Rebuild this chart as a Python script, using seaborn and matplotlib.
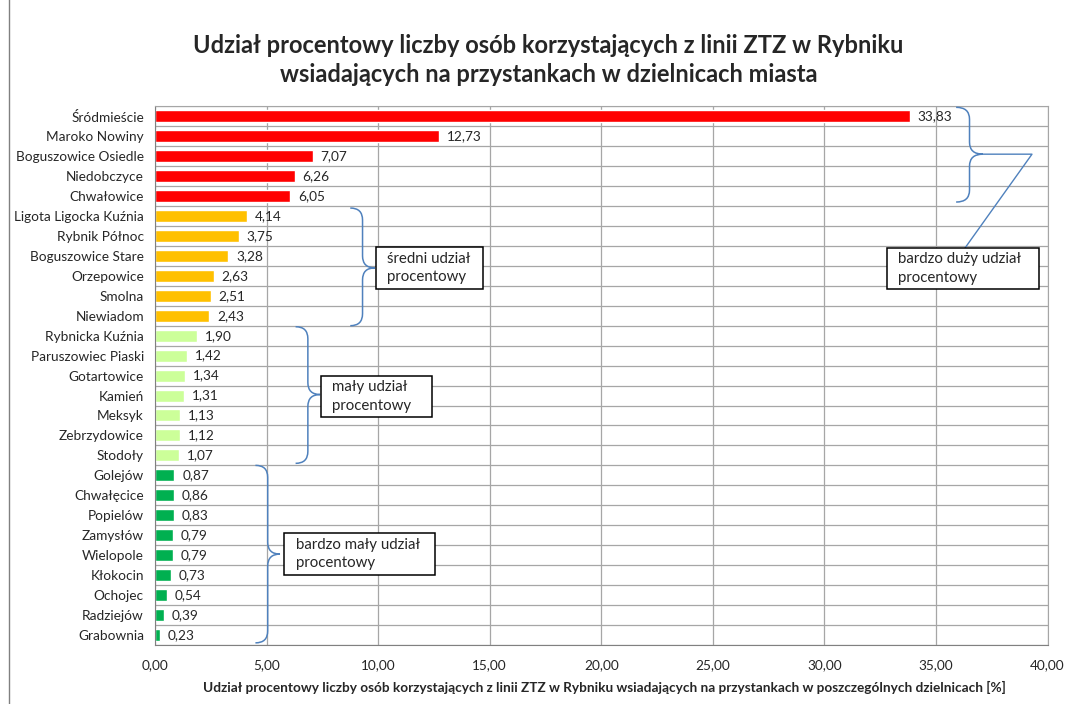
import numpy as np
import pandas as pd
import seaborn as sns
import matplotlib.pyplot as plt
from matplotlib.path import Path
from matplotlib.patches import PathPatch, Rectangle

dzielnice = ['Śródmieście', 'Maroko Nowiny', 'Boguszowice Osiedle', 'Niedobczyce', 'Chwałowice',
             'Ligota Ligocka Kuźnia', 'Rybnik Północ', 'Boguszowice Stare', 'Orzepowice', 'Smolna',
             'Niewiadom', 'Rybnicka Kuźnia', 'Paruszowiec Piaski', 'Gotartowice', 'Kamień', 'Meksyk',
             'Zebrzydowice', 'Stodoły', 'Golejów', 'Chwałęcice', 'Popielów', 'Zamysłów', 'Wielopole',
             'Kłokocin', 'Ochojec', 'Radziejów', 'Grabownia']
udzial = [33.83, 12.73, 7.07, 6.26, 6.05,
          4.14, 3.75, 3.28, 2.63, 2.51, 2.43,
          1.90, 1.42, 1.34, 1.31, 1.13, 1.12, 1.07,
          0.87, 0.86, 0.83, 0.79, 0.79, 0.73, 0.54, 0.39, 0.23]
grupa = ['bardzo duży'] * 5 + ['średni'] * 6 + ['mały'] * 7 + ['bardzo mały'] * 9
kolory = {'bardzo duży': '#FF0000', 'średni': '#FFC000', 'mały': '#CCFF99', 'bardzo mały': '#00B050'}

df = pd.DataFrame({'dzielnica': dzielnice, 'udzial': udzial, 'grupa': grupa})

sns.set_style('white')
plt.rcParams['font.family'] = ['Lato', 'DejaVu Sans']

fig, ax = plt.subplots(figsize=(10.69, 7.04), dpi=100)
fig.subplots_adjust(left=0.145, right=0.980, bottom=0.084, top=0.849)

sns.barplot(data=df, x='udzial', y='dzielnica', hue='grupa', palette=kolory, dodge=False,
            width=0.6, saturation=1, legend=False, ax=ax, orient='h')

# etykiety wartosci
for i, v in enumerate(udzial):
    ax.text(v + 0.35, i, f'{v:.2f}'.replace('.', ','), va='center', ha='left', fontsize=9.8)

ax.set_xlim(0, 40)
ax.set_ylim(len(dzielnice) - 0.5, -0.5)
ax.set_xticks(np.arange(0, 41, 5))
ax.set_xticklabels([f'{t:.2f}'.replace('.', ',') for t in np.arange(0, 41, 5)], fontsize=9.8)
ax.set_yticks(np.arange(-0.5, len(dzielnice), 1), minor=True)
ax.tick_params(axis='y', which='major', length=0, labelsize=9.8, pad=8)
ax.tick_params(axis='y', which='minor', length=5, color='#808080')
ax.tick_params(axis='x', length=0, pad=10)
ax.grid(axis='x', color='#A6A6A6', linewidth=0.9)
ax.grid(axis='y', which='minor', color='#A6A6A6', linewidth=0.9)
ax.set_axisbelow(True)
for s in ['top', 'right']:
    ax.spines[s].set_color('#A6A6A6')
for s in ['left', 'bottom']:
    ax.spines[s].set_color('#808080')
ax.set_xlabel('')
ax.set_ylabel('')


def klamra(x0, x1, yt, yb, ym, h=0.6):
    xm = (x0 + x1) / 2
    verts = [(x0, yt), (xm, yt), (xm, yt + h),
             (xm, ym - h), (xm, ym), (x1, ym),
             (xm, ym), (xm, ym + h),
             (xm, yb - h), (xm, yb), (x0, yb)]
    codes = [Path.MOVETO, Path.CURVE3, Path.CURVE3,
             Path.LINETO, Path.CURVE3, Path.CURVE3,
             Path.CURVE3, Path.CURVE3,
             Path.LINETO, Path.CURVE3, Path.CURVE3]
    ax.add_patch(PathPatch(Path(verts, codes), fill=False, edgecolor='#4F81BD',
                           linewidth=1.1, clip_on=False, zorder=5))


def ramka(x0, x1, yt, yb, tekst):
    ax.add_patch(Rectangle((x0, yt), x1 - x0, yb - yt, facecolor='white', edgecolor='black',
                           linewidth=1.1, zorder=6, clip_on=False))
    ax.text(x0 + 0.5, (yt + yb) / 2, tekst, va='center', ha='left', fontsize=10.8,
            linespacing=1.4, zorder=7)


klamra(35.9, 37.1, -0.45, 4.3, 1.9)
ax.plot([37.1, 39.3, 36.3], [1.9, 1.9, 6.6], color='#4F81BD', linewidth=1, zorder=5)
ramka(32.8, 39.6, 6.6, 8.65, 'bardzo duży udział\nprocentowy')

klamra(8.75, 9.85, 4.6, 10.5, 7.6)
ramka(9.9, 14.7, 6.55, 8.65, 'średni udział\nprocentowy')

klamra(6.3, 7.4, 10.55, 17.4, 13.95)
ramka(7.45, 12.4, 13.0, 15.1, 'mały udział\nprocentowy')

klamra(4.5, 5.6, 17.5, 26.4, 21.95)
ramka(5.8, 12.55, 20.9, 23.0, 'bardzo mały udział\nprocentowy')

fig.text(0.513, 0.915, 'Udział procentowy liczby osób korzystających z linii ZTZ w Rybniku\n'
         'wsiadających na przystankach w dzielnicach miasta',
         ha='center', va='center', fontsize=17, fontweight='bold', linespacing=1.3)
fig.text(0.565, 0.023, 'Udział procentowy liczby osób korzystających z linii ZTZ w Rybniku wsiadających '
         'na przystankach w poszczególnych dzielnicach [%]',
         ha='center', va='center', fontsize=9.8, fontweight='bold')

fig.add_artist(Rectangle((0.008, -0.01), 1.5, 1.5, transform=fig.transFigure, fill=False,
                         edgecolor='#808080', linewidth=1))

fig.savefig('out.png', dpi=100)
